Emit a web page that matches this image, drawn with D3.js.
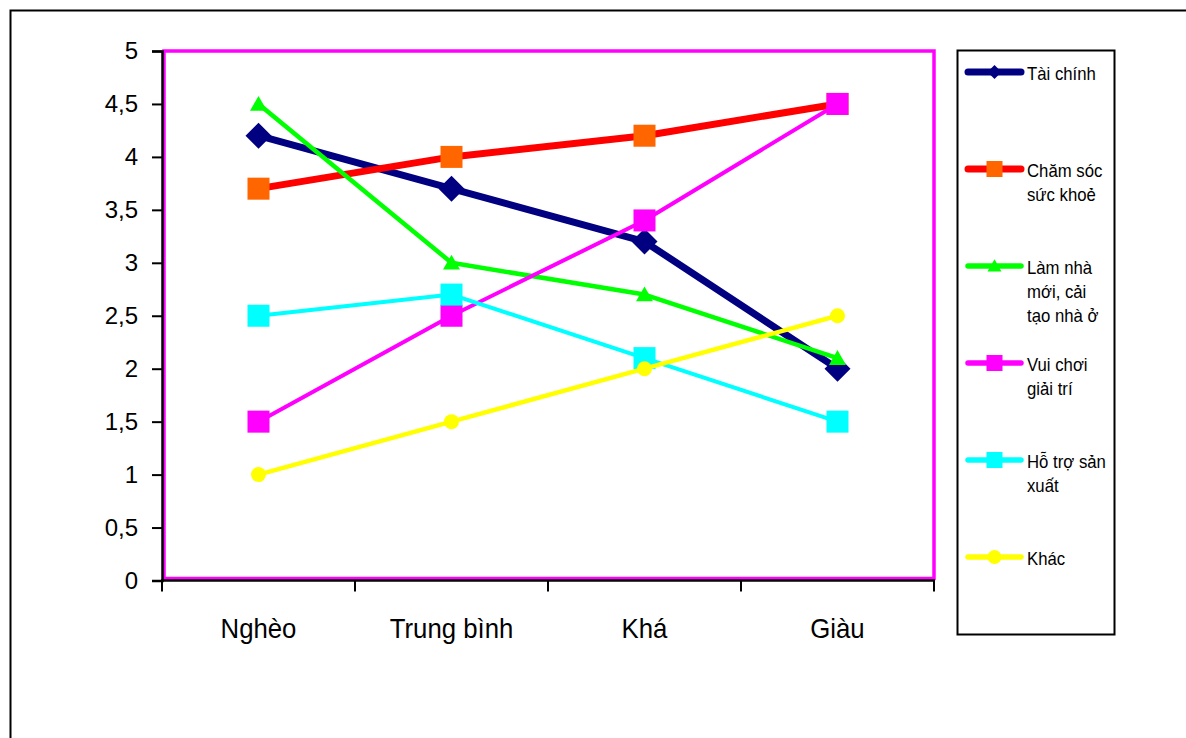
<!DOCTYPE html>
<html>
<head>
<meta charset="utf-8">
<script src="https://cdn.jsdelivr.net/npm/d3@7"></script>
<style>
  html, body { margin: 0; padding: 0; background: #ffffff; }
  svg { display: block; }
  text { font-family: "Liberation Sans", Arial, sans-serif; fill: #000; }
</style>
</head>
<body>
<svg id="chart" width="1186" height="738"></svg>
<script>
// Household groups along the x axis
const categories = ["Nghèo", "Trung bình", "Khá", "Giàu"];

// Average scores per spending purpose
const taiChinh  = [4.2, 3.7, 3.2, 2.0];
const chamSoc   = [3.7, 4.0, 4.2, 4.5];
const lamNha    = [4.5, 3.0, 2.7, 2.1];
const vuiChoi   = [1.5, 2.5, 3.4, 4.5];
const hoTro     = [2.5, 2.7, 2.1, 1.5];
const khac      = [1.0, 1.5, 2.0, 2.5];

const yTicks = [0, 0.5, 1, 1.5, 2, 2.5, 3, 3.5, 4, 4.5, 5];

const series = [
  { name: ["Tài chính"],                    values: taiChinh, line: "#000080", fill: "#000080", shape: "diamond",  width: 7 },
  { name: ["Chăm sóc", "sức khoẻ"],         values: chamSoc,  line: "#ff0000", fill: "#ff6600", shape: "square",   width: 7 },
  { name: ["Làm nhà", "mới, cải", "tạo nhà ở"], values: lamNha, line: "#00ff00", fill: "#00ff00", shape: "triangle", width: 4.5 },
  { name: ["Vui chơi", "giải trí"],         values: vuiChoi,  line: "#ff00ff", fill: "#ff00ff", shape: "square",   width: 4 },
  { name: ["Hỗ trợ sản", "xuất"],           values: hoTro,    line: "#00ffff", fill: "#00ffff", shape: "square",   width: 4 },
  { name: ["Khác"],                         values: khac,     line: "#ffff00", fill: "#ffff00", shape: "circle",   width: 4.5 }
];

const svg = d3.select("#chart");

// Outer chart frame (runs off the right and bottom edges)
svg.append("rect")
  .attr("x", 10.5).attr("y", 10.5)
  .attr("width", 1300).attr("height", 900)
  .attr("fill", "none").attr("stroke", "#000").attr("stroke-width", 2);

const plot = { left: 162, right: 934, top: 51, bottom: 580.5 };

const x = d3.scaleBand().domain(categories).range([plot.left, plot.right]).padding(0);
const y = d3.scaleLinear().domain([0, 5]).range([plot.bottom, plot.top]);
const cx = d => x(d) + x.bandwidth() / 2;

// Plot area border
svg.append("rect")
  .attr("x", plot.left + 2).attr("y", plot.top)
  .attr("width", plot.right - plot.left - 2).attr("height", plot.bottom - plot.top - 2)
  .attr("fill", "none").attr("stroke", "#ff00ff").attr("stroke-width", 3.5);

// Y axis
const yAxis = svg.append("g")
  .attr("transform", `translate(${plot.left},0)`)
  .call(d3.axisLeft(y).tickValues(yTicks).tickSize(10).tickPadding(14)
    .tickFormat(d => String(d).replace(".", ",")));
yAxis.select(".domain").attr("stroke", "#000").attr("stroke-width", 2.5);
yAxis.selectAll(".tick line").attr("stroke", "#000").attr("stroke-width", 2);
yAxis.selectAll(".tick text")
  .style("font-family", "'Liberation Sans', Arial, sans-serif")
  .style("font-size", "24px").attr("fill", "#000");

// X axis: ticks on category boundaries, labels at centres
const xAxisG = svg.append("g").attr("transform", `translate(0,${plot.bottom})`);
xAxisG.append("line")
  .attr("x1", plot.left - 1).attr("x2", plot.right + 1)
  .attr("y1", 0).attr("y2", 0)
  .attr("stroke", "#000").attr("stroke-width", 2.5);
const boundaries = categories.map(c => x(c)).concat([x(categories[categories.length - 1]) + x.bandwidth()]);
xAxisG.selectAll("line.tk").data(boundaries).join("line")
  .attr("class", "tk")
  .attr("x1", d => d).attr("x2", d => d)
  .attr("y1", 0).attr("y2", 11)
  .attr("stroke", "#000").attr("stroke-width", 2);
// Category labels: slightly condensed, taller glyphs
xAxisG.selectAll("text").data(categories).join("text")
  .attr("transform", d => `translate(${cx(d)},57) scale(0.92,1)`)
  .attr("text-anchor", "middle")
  .style("font-size", "28px")
  .text(d => d);

// Marker drawing helper
function marker(g, shape, fill, size) {
  if (shape === "square") {
    g.append("rect").attr("x", -size / 2).attr("y", -size / 2)
      .attr("width", size).attr("height", size).attr("fill", fill);
  } else if (shape === "diamond") {
    const h = size / 2;
    g.append("path").attr("d", `M0,${-h}L${h},0L0,${h}L${-h},0Z`).attr("fill", fill);
  } else if (shape === "triangle") {
    const w = size / 2;
    g.append("path").attr("d", `M0,${-w * 0.95}L${w},${w * 0.8}L${-w},${w * 0.8}Z`).attr("fill", fill);
  } else {
    g.append("circle").attr("r", size / 2).attr("fill", fill);
  }
}
const markerSize = { square: 22, diamond: 26, triangle: 17, circle: 15 };
const legendMarkerSize = { square: 16, diamond: 14, triangle: 14, circle: 14 };

const lineGen = d3.line().x((d, i) => cx(categories[i])).y(d => y(d));

series.forEach(s => {
  const g = svg.append("g");
  g.append("path")
    .attr("d", lineGen(s.values))
    .attr("fill", "none")
    .attr("stroke", s.line)
    .attr("stroke-width", s.width)
    .attr("stroke-linejoin", "round");
  s.values.forEach((v, i) => {
    const m = g.append("g").attr("transform", `translate(${cx(categories[i])},${y(v)})`);
    marker(m, s.shape, s.fill, markerSize[s.shape]);
  });
});

// Legend
const legend = svg.append("g");
legend.append("rect")
  .attr("x", 957.5).attr("y", 50.5).attr("width", 157).attr("height", 584)
  .attr("fill", "#fff").attr("stroke", "#000").attr("stroke-width", 2);

series.forEach((s, i) => {
  const ly = 72 + i * 97;
  const item = legend.append("g").attr("transform", `translate(0,${ly})`);
  item.append("line")
    .attr("x1", 968).attr("x2", 1021)
    .attr("y1", 0).attr("y2", 0)
    .attr("stroke", s.line)
    .attr("stroke-width", s.width >= 6 ? 7 : 5.5)
    .attr("stroke-linecap", "round");
  const m = item.append("g").attr("transform", "translate(994.5,0)");
  marker(m, s.shape, s.fill, legendMarkerSize[s.shape]);
  const t = item.append("text")
    .attr("transform", "translate(1027,8) scale(0.93,1)")
    .style("font-size", "18px");
  s.name.forEach((ln, k) => {
    t.append("tspan").attr("x", 0).attr("dy", k === 0 ? 0 : 24).text(ln);
  });
});
</script>
</body>
</html>
